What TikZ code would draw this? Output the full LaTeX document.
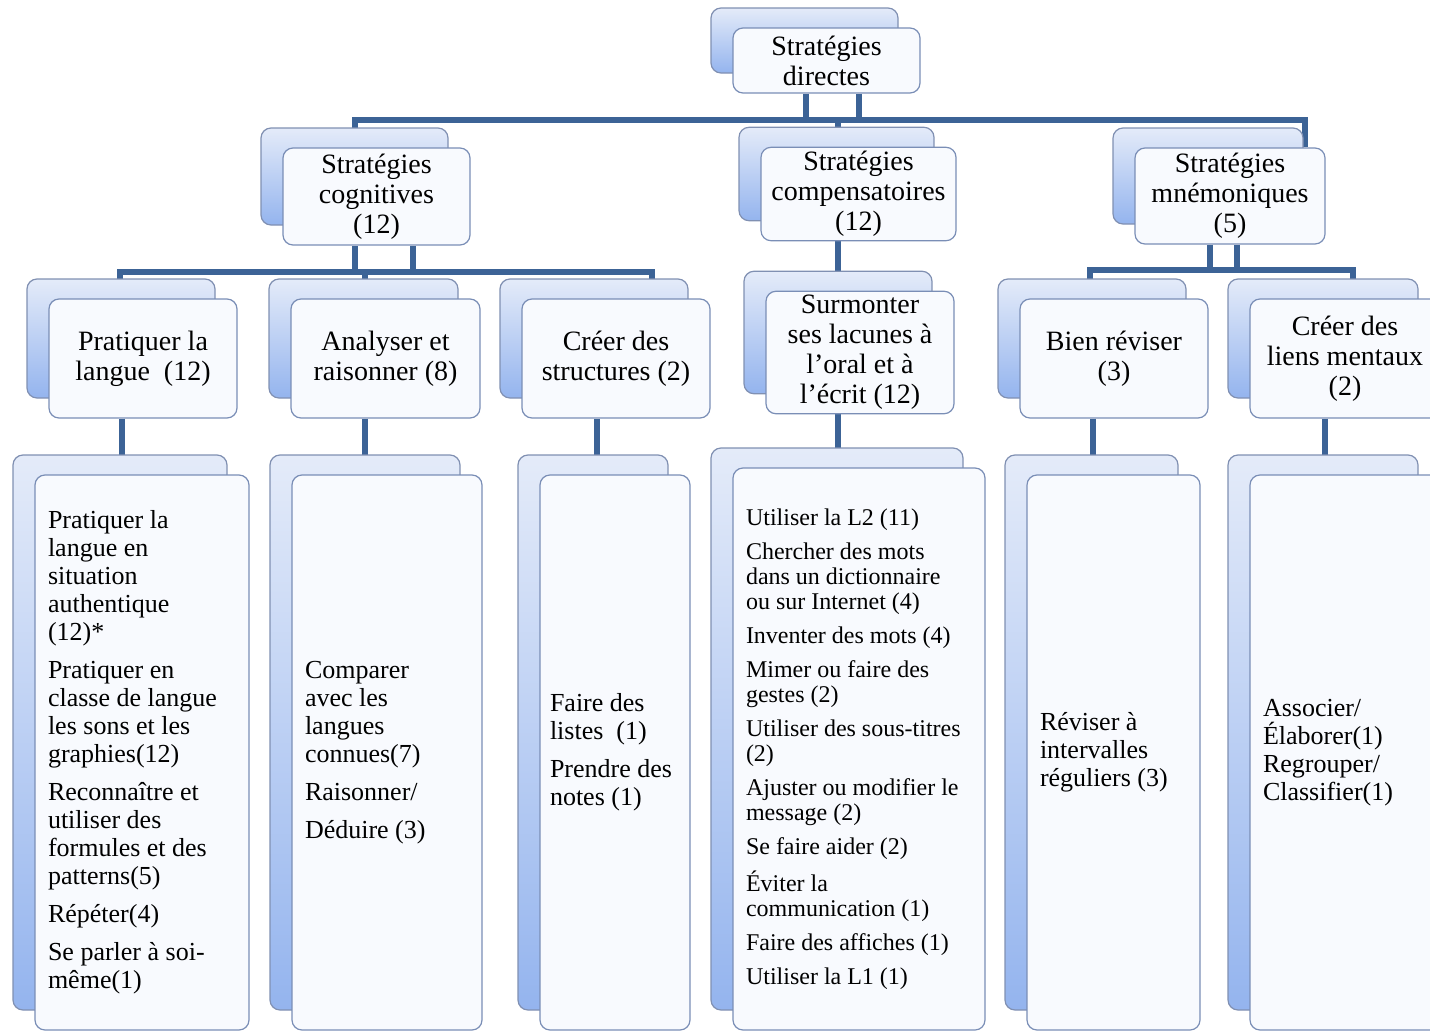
\documentclass[tikz,border=0pt]{standalone}
\usepackage{fontspec}
\setmainfont{Liberation Serif}
\usetikzlibrary{shadows,backgrounds}
\definecolor{cardline}{RGB}{122,142,182}
\definecolor{cardfill}{RGB}{248,250,254}
\definecolor{backline}{RGB}{128,144,178}
\definecolor{backtop}{RGB}{228,235,249}
\definecolor{backbot}{RGB}{148,180,238}
\definecolor{linkblue}{RGB}{60,99,150}
\tikzset{
  card/.style={draw=cardline, fill=cardfill, line width=0.6pt, rounded corners=5pt,
    inner sep=2pt, align=center, font=\fontsize{14}{15}\selectfont,
    general shadow={shadow xshift=-11pt, shadow yshift=10pt, draw=backline,
      top color=backtop, bottom color=backbot}},
  listcard/.style={card, align=flush left, inner xsep=6.5pt, font=\fontsize{13}{14}\selectfont},
  link/.style={draw=linkblue, line width=3pt},
}
\begin{document}
\begin{tikzpicture}[x=0.5pt, y=-0.5pt]
  \useasboundingbox (0,0) rectangle (1430,1033);
  % level 1 and 2
  \node[card, minimum width=93.5pt, minimum height=32.5pt] (top) at (826.5,60.5) {Stratégies\\directes};
  \node[card, minimum width=93.5pt, minimum height=48.5pt] (cog) at (376.5,196.5) {Stratégies\\cognitives\\(12)};
  \node[card, minimum width=97.5pt, minimum height=46pt] (comp) at (858.5,194) {Stratégies\\compensatoires\\(12)};
  \node[card, minimum width=95pt, minimum height=48pt] (mne) at (1230,196) {Stratégies\\mnémoniques\\(5)};
  % level 3
  \node[card, minimum width=94pt, minimum height=59.5pt] (prat) at (143,358.5) {Pratiquer la\\langue~ (12)};
  \node[card, minimum width=94.5pt, minimum height=59.5pt] (ana) at (385.5,358.5) {Analyser et\\raisonner (8)};
  \node[card, minimum width=94pt, minimum height=59.5pt] (cree) at (616,358.5) {Créer des\\structures (2)};
  \node[card, minimum width=94pt, minimum height=59.5pt] (surm) at (860,352.5) {Surmonter\\ses lacunes à\\l'oral et à\\l'écrit (12)};
  \node[card, minimum width=94pt, minimum height=59.5pt] (rev) at (1114,358.5) {Bien réviser\\(3)};
  \node[card, minimum width=95pt, minimum height=59.5pt] (liens) at (1345,358.5) {Créer des\\liens mentaux\\(2)};
  % level 4
  \node[listcard, text width=94pt, minimum height=277.5pt] (lprat) at (142,752.5)
    {Pratiquer la\\langue en\\situation\\authentique\\(12)*\\[5pt]
     Pratiquer en\\classe de langue\\les sons et les\\graphies(12)\\[5pt]
     Reconnaître et\\utiliser des\\formules et des\\patterns(5)\\[5pt]
     Répéter(4)\\[5pt]
     Se parler à soi-\\même(1)};
  \node[listcard, text width=82pt, minimum height=277.5pt] (lana) at (387,752.5)
    {Comparer\\avec les\\langues\\connues(7)\\[5pt]
     Raisonner/\\[5pt]
     Déduire (3)};
  \node[listcard, inner xsep=5pt, text width=65pt, minimum height=277.5pt] (lcree) at (615,752.5)
    {Faire des\\listes~ (1)\\[5pt]
     Prendre des\\notes (1)};
  \node[listcard, text width=113pt, minimum height=281pt, font=\fontsize{12}{12.5}\selectfont] (lsurm) at (859,749)
    {Utiliser la L2 (11)\\[4.5pt]
     Chercher des mots\\dans un dictionnaire\\ou sur Internet (4)\\[4.5pt]
     Inventer des mots (4)\\[4.5pt]
     Mimer ou faire des\\gestes (2)\\[4.5pt]
     Utiliser des sous-titres\\(2)\\[4.5pt]
     Ajuster ou modifier le\\message (2)\\[4.5pt]
     Se faire aider (2)\\[4.5pt]
     Éviter la\\communication (1)\\[4.5pt]
     Faire des affiches (1)\\[4.5pt]
     Utiliser la L1 (1)};
  \node[listcard, text width=73.5pt, minimum height=277.5pt] (lrev) at (1113.5,752.5)
    {Réviser à\\intervalles\\réguliers (3)};
  \node[listcard, text width=82pt, minimum height=277.5pt] (lliens) at (1345,752.5)
    {Associer/\\Élaborer(1)\\Regrouper/\\Classifier(1)};
  % connectors
  \begin{scope}[on background layer]
    \coordinate (busl) at (355,120);
    \coordinate (busr) at (1305,120);
    \draw[link] ([xshift=-10.25pt]top.south) -- ([xshift=-10.25pt]top.south |- busl);
    \draw[link] ([xshift=16.25pt]top.south) -- ([xshift=16.25pt]top.south |- busl);
    \draw[link] (cog.north -| busl) -- (busl) -- (busr) -- (mne.north -| busr);
    \draw[link] ([xshift=-10.25pt]comp.north) -- ([xshift=-10.25pt]comp.north |- busl);
    \coordinate (cbusl) at (120,272);
    \coordinate (cbusr) at (652,272);
    \draw[link] ([xshift=-10.75pt]cog.south) -- ([xshift=-10.75pt]cog.south |- cbusl);
    \draw[link] ([xshift=18.25pt]cog.south) -- ([xshift=18.25pt]cog.south |- cbusl);
    \draw[link] (prat.north -| cbusl) -- (cbusl) -- (cbusr) -- (cree.north -| cbusr);
    \draw[link] ([xshift=-10.25pt]ana.north) -- ([xshift=-10.25pt]ana.north |- cbusl);
    \draw[link] ([xshift=-10.25pt]comp.south) -- ([xshift=-10.25pt]comp.south |- surm.north);
    \coordinate (mbusl) at (1090,270);
    \coordinate (mbusr) at (1353,270);
    \draw[link] ([xshift=-10pt]mne.south) -- ([xshift=-10pt]mne.south |- mbusl);
    \draw[link] ([xshift=3.5pt]mne.south) -- ([xshift=3.5pt]mne.south |- mbusl);
    \draw[link] (rev.north -| mbusl) -- (mbusl) -- (mbusr) -- (liens.north -| mbusr);
    % down to the lists
    \draw[link] ([xshift=-10.5pt]prat.south) -- ([xshift=-10.5pt]prat.south |- lprat.north);
    \draw[link] ([xshift=-10.25pt]ana.south) -- ([xshift=-10.25pt]ana.south |- lana.north);
    \draw[link] ([xshift=-9.5pt]cree.south) -- ([xshift=-9.5pt]cree.south |- lcree.north);
    \draw[link] ([xshift=-11pt]surm.south) -- ([xshift=-11pt]surm.south |- lsurm.north);
    \draw[link] ([xshift=-10.5pt]rev.south) -- ([xshift=-10.5pt]rev.south |- lrev.north);
    \draw[link] ([xshift=-10pt]liens.south) -- ([xshift=-10pt]liens.south |- lliens.north);
  \end{scope}
\end{tikzpicture}
\end{document}
